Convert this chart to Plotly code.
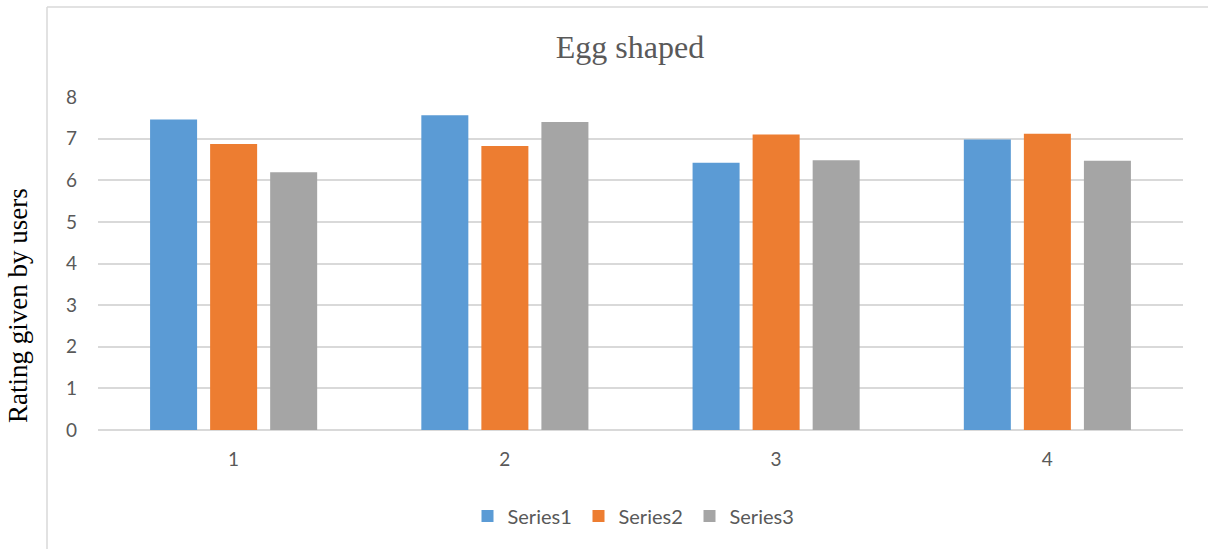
import plotly.graph_objects as go

categories = ["1", "2", "3", "4"]
series1 = [7.46, 7.56, 6.42, 6.98]
series2 = [6.87, 6.82, 7.10, 7.12]
series3 = [6.19, 7.40, 6.48, 6.47]
series_names = ["Series1", "Series2", "Series3"]
colors = ["#5B9BD5", "#ED7D31", "#A5A5A5"]
y_ticks = [0, 1, 2, 3, 4, 5, 6, 7, 8]

W, H = 1208, 549
L, R, T, B = 98, 25, 97, 119
pw, ph = W - L - R, H - T - B

fig = go.Figure()
for name, vals, col in zip(series_names, [series1, series2, series3], colors):
    fig.add_trace(go.Bar(x=categories, y=vals, name=name,
                         marker=dict(color=col, line=dict(width=0))))

def px_x(x):
    return (x - L) / pw

def px_y(y):
    return (H - B - y) / ph

fig.update_layout(
    width=W, height=H,
    margin=dict(l=L, r=R, t=T, b=B),
    paper_bgcolor="white", plot_bgcolor="white",
    barmode="group", bargap=0.336, bargroupgap=0.217,
    font=dict(family="Lato, Carlito, sans-serif", color="#595959", size=19),
    title=dict(text="Egg shaped", x=630 / W, xref="container", xanchor="center",
               y=1 - 47 / H, yref="container", yanchor="middle",
               font=dict(family="Liberation Serif, Times New Roman, serif", size=32, color="#595959")),
    xaxis=dict(showgrid=False, showline=False, zeroline=False, ticks="",
               ticklabelstandoff=16, tickfont=dict(size=19, color="#595959")),
    yaxis=dict(range=[0, 8], tickvals=y_ticks, showgrid=True, gridcolor="#D9D9D9", gridwidth=1.5,
               zeroline=True, zerolinecolor="#D9D9D9", zerolinewidth=1.5, showline=False,
               ticks="", ticklabelstandoff=20, tickfont=dict(size=19, color="#595959")),
    showlegend=True,
    legend=dict(orientation="h", x=634 / W, xref="container", xanchor="center",
                y=1 - 516 / H, yref="container", yanchor="middle",
                font=dict(size=20, color="#595959"), itemwidth=30, traceorder="normal",
                entrywidth=66, entrywidthmode="pixels"),
    shapes=[dict(type="line", xref="paper", yref="paper",
                 x0=px_x(47), x1=px_x(1215), y0=px_y(7), y1=px_y(7),
                 line=dict(color="#D9D9D9", width=1.5)),
            dict(type="line", xref="paper", yref="paper",
                 x0=px_x(47), x1=px_x(47), y0=px_y(7), y1=px_y(560),
                 line=dict(color="#D9D9D9", width=1.5))],
    annotations=[dict(text="Rating given by users", textangle=-90, xref="paper", yref="paper",
                      x=px_x(18), y=px_y(306), xanchor="center", yanchor="middle", showarrow=False,
                      font=dict(family="Liberation Serif, Times New Roman, serif", size=27, color="black"))],
)

fig.write_html("out.html", config={"displayModeBar": False},
               post_script="document.body.style.margin='0';")
